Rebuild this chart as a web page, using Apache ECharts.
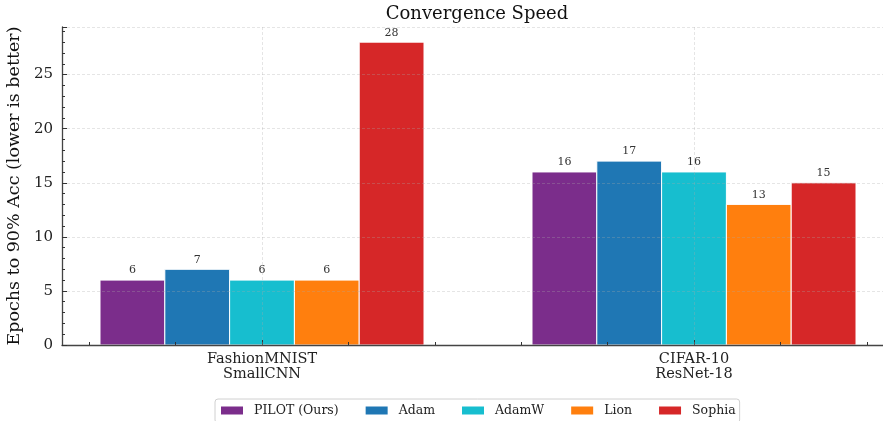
<!DOCTYPE html>
<html>
<head>
<meta charset="utf-8">
<script src="https://cdn.jsdelivr.net/npm/echarts@6/dist/echarts.min.js"></script>
<style>
  html, body { margin: 0; padding: 0; background: #fff; }
  #chart { width: 883px; height: 421px; }
</style>
</head>
<body>
<div id="chart"></div>
<script>
// Benchmark settings (x positions 0 and 1)
const categories = ['FashionMNIST\nSmallCNN', 'CIFAR-10\nResNet-18'];
const optimizers = ['PILOT (Ours)', 'Adam', 'AdamW', 'Lion', 'Sophia'];

// Epochs needed to reach 90% accuracy, per benchmark
const pilotEpochs  = [6, 16];
const adamEpochs   = [7, 17];
const adamwEpochs  = [6, 16];
const lionEpochs   = [6, 13];
const sophiaEpochs = [28, 15];

const yTicks = [0, 5, 10, 15, 20, 25];

const seriesValues = [pilotEpochs, adamEpochs, adamwEpochs, lionEpochs, sophiaEpochs];
const colors = ['#7b2d8b', '#1f77b4', '#17becf', '#ff7f0e', '#d62728'];

const FONT = 'DejaVu Serif';
const BAR_W = 0.15;
const GRID_COLOR = 'rgba(170,170,170,0.38)';

function makeSeries(idx) {
  const offset = (idx - 2) * BAR_W;
  return {
    name: optimizers[idx],
    type: 'custom',
    xAxisIndex: 0,
    yAxisIndex: 0,
    z: 2,
    itemStyle: { color: colors[idx] },
    data: seriesValues[idx].map((v, i) => [i, v]),
    encode: { x: 0, y: 1 },
    renderItem: function (params, api) {
      const x = api.value(0) + offset;
      const v = api.value(1);
      const p0 = api.coord([x - BAR_W / 2, v]);
      const p1 = api.coord([x + BAR_W / 2, 0]);
      return {
        type: 'group',
        children: [
          {
            type: 'rect',
            shape: { x: p0[0], y: p0[1], width: p1[0] - p0[0], height: p1[1] - p0[1] },
            style: { fill: colors[idx], stroke: '#ffffff', lineWidth: 1 }
          },
          {
            type: 'text',
            style: {
              x: (p0[0] + p1[0]) / 2,
              y: p0[1] - 4,
              text: String(v),
              fill: '#333',
              font: '11px "' + FONT + '"',
              align: 'center',
              verticalAlign: 'bottom'
            }
          }
        ]
      };
    }
  };
}

const series = optimizers.map((_, i) => makeSeries(i));
// vertical dashed guides at each benchmark position, drawn over the bars
series[4].markLine = {
  silent: true,
  symbol: ['none', 'none'],
  label: { show: false },
  lineStyle: { color: GRID_COLOR, type: [3, 2], width: 0.8 },
  data: [{ xAxis: 0 }, { xAxis: 1 }],
  animation: false
};

const chart = echarts.init(document.getElementById('chart'), null, { renderer: 'canvas' });
chart.setOption({
  animation: false,
  backgroundColor: '#ffffff',
  textStyle: { fontFamily: FONT },
  title: {
    text: 'Convergence Speed',
    left: 472,
    textAlign: 'center',
    top: 0,
    textStyle: { fontFamily: FONT, fontSize: 18, fontWeight: 'normal', color: '#111' }
  },
  grid: { left: 62, right: 0, top: 27, bottom: 76, containLabel: false, outerBoundsMode: 'none' },
  legend: {
    data: optimizers,
    top: 399,
    left: 215,
    icon: 'rect',
    itemWidth: 22,
    itemHeight: 8,
    itemGap: 27,
    padding: [5, 4, 6, 6],
    borderColor: '#d0d0d0',
    borderWidth: 1,
    borderRadius: 3,
    textStyle: { fontFamily: FONT, fontSize: 12.5, color: '#222', padding: [0, 0, 0, 6] }
  },
  xAxis: [
    {
      type: 'value',
      min: -0.463,
      max: 1.4375,
      z: 3,
      axisLine: { show: true, onZero: false, lineStyle: { color: '#444', width: 1.3 } },
      axisTick: { show: true, inside: true, length: 5, customValues: [0, 1], lineStyle: { color: '#333' } },
      axisLabel: {
        customValues: [0, 1],
        formatter: v => categories[Math.round(v)],
        fontFamily: FONT, fontSize: 14.5, color: '#222', lineHeight: 15, margin: 7
      },
      splitLine: { show: false }
    },
    {
      type: 'value',
      min: -0.463,
      max: 1.4375,
      position: 'bottom',
      z: 3,
      axisLine: { show: false, onZero: false },
      axisTick: { show: true, inside: true, length: 3, customValues: [-0.4, -0.2, 0.2, 0.4, 0.6, 0.8, 1.2, 1.4], lineStyle: { color: '#333' } },
      axisLabel: { show: false },
      splitLine: { show: false }
    }
  ],
  yAxis: {
    type: 'value',
    min: 0,
    max: 29.4,
    interval: 5,
    z: 3,
    name: 'Epochs to 90% Acc (lower is better)',
    nameLocation: 'middle',
    nameGap: 35,
    nameTextStyle: { fontFamily: FONT, fontSize: 17.5, color: '#111' },
    axisLine: { show: true, onZero: false, lineStyle: { color: '#444', width: 1.3 } },
    axisTick: { show: true, inside: true, length: 5, lineStyle: { color: '#333' } },
    minorTick: { show: true, splitNumber: 5, length: 3, lineStyle: { color: '#333' } },
    axisLabel: {
      fontFamily: FONT, fontSize: 15, color: '#222', margin: 9,
      formatter: v => (yTicks.indexOf(v) >= 0 ? String(v) : '')
    },
    splitLine: { show: true, lineStyle: { color: GRID_COLOR, type: [3, 2], width: 0.8 } }
  },
  series: series
});
</script>
</body>
</html>
